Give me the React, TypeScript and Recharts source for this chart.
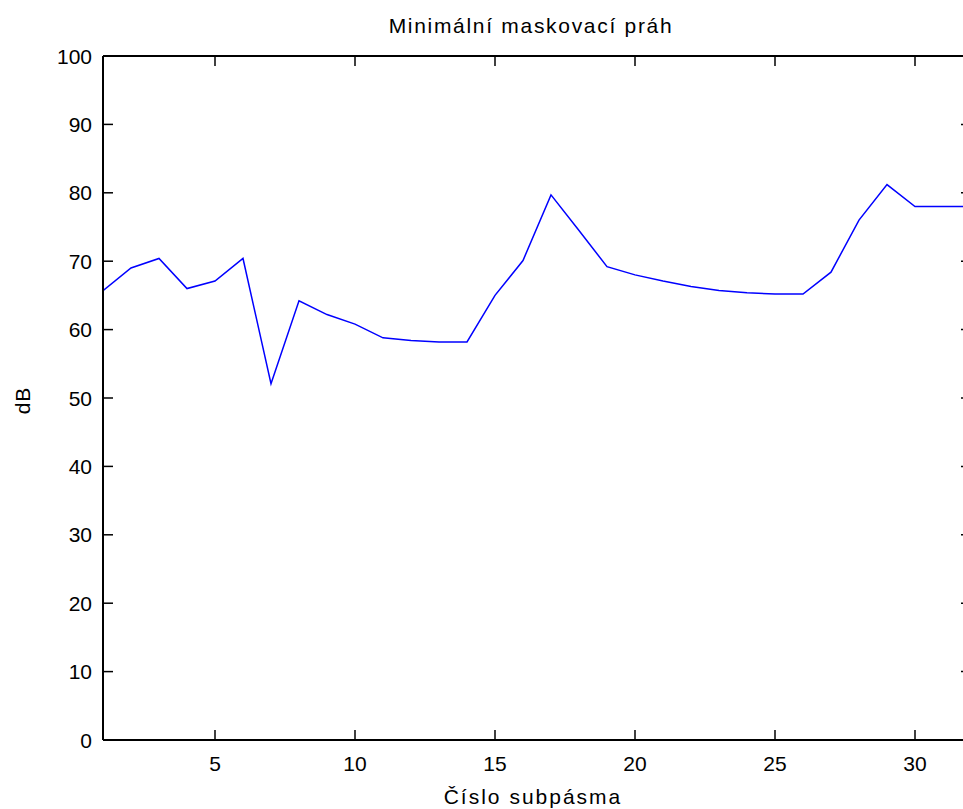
import React from "react";
import { LineChart, Line, XAxis, YAxis } from "recharts";

const subbands = [1, 2, 3, 4, 5, 6, 7, 8, 9, 10, 11, 12, 13, 14, 15, 16, 17, 18, 19, 20, 21, 22, 23, 24, 25, 26, 27, 28, 29, 30, 31, 32];
const thresholdDb = [65.7, 69.0, 70.4, 66.0, 67.1, 70.4, 52.1, 64.2, 62.2, 60.8, 58.8, 58.4, 58.2, 58.2, 65.0, 70.1, 79.7, 74.5, 69.2, 68.0, 67.1, 66.3, 65.7, 65.4, 65.2, 65.2, 68.4, 76.0, 81.2, 78.0, 78.0, 78.0];
const xTicks = [5, 10, 15, 20, 25, 30];
const yTicks = [0, 10, 20, 30, 40, 50, 60, 70, 80, 90, 100];

const title = "Minimální maskovací práh";
const xLabel = "Číslo subpásma";
const yLabel = "dB";

const data = subbands.map((s, i) => ({ x: s, y: thresholdDb[i] }));

const FONT = "'Liberation Sans', Arial, sans-serif";
const TICK_LEN = 10;

const BottomTick = (props: any) => {
  const { x, y, payload } = props;
  return (
    <g>
      <line x1={x} y1={y} x2={x} y2={y - TICK_LEN} stroke="#000" strokeWidth={1.5} />
      <text x={x} y={y + 31} textAnchor="middle" fontSize={21} fontFamily={FONT} fill="#000">
        {payload.value}
      </text>
    </g>
  );
};

const TopTick = (props: any) => {
  const { x, y } = props;
  return <line x1={x} y1={y} x2={x} y2={y + TICK_LEN} stroke="#000" strokeWidth={1.5} />;
};

const LeftTick = (props: any) => {
  const { x, y, payload } = props;
  return (
    <g>
      <line x1={x} y1={y} x2={x + TICK_LEN} y2={y} stroke="#000" strokeWidth={1.5} />
      <text x={x - 11} y={y} dy="0.36em" textAnchor="end" fontSize={21} fontFamily={FONT} fill="#000">
        {payload.value}
      </text>
    </g>
  );
};

const RightTick = (props: any) => {
  const { x, y } = props;
  return <line x1={x} y1={y} x2={x - TICK_LEN} y2={y} stroke="#000" strokeWidth={1.5} />;
};

export default function App() {
  return (
    <div
      style={{
        position: "fixed",
        left: 0,
        top: 0,
        width: 963,
        height: 809,
        overflow: "hidden",
        background: "#fff",
      }}
    >
      <LineChart
        width={1010}
        height={809}
        data={data}
        margin={{ top: 46, right: 29, bottom: 9, left: 43 }}
      >
        <XAxis
          dataKey="x"
          type="number"
          domain={[1, 32]}
          ticks={xTicks}
          interval={0}
          allowDataOverflow
          height={60}
          tickSize={0}
          tickMargin={0}
          tickLine={false}
          axisLine={{ stroke: "#000", strokeWidth: 2 }}
          tick={(p: any) => <BottomTick {...p} />}
        />
        <XAxis
          xAxisId="top"
          orientation="top"
          dataKey="x"
          type="number"
          domain={[1, 32]}
          ticks={xTicks}
          interval={0}
          allowDataOverflow
          height={10}
          tickSize={0}
          tickMargin={0}
          tickLine={false}
          axisLine={{ stroke: "#000", strokeWidth: 2 }}
          tick={(p: any) => <TopTick {...p} />}
        />
        <YAxis
          type="number"
          domain={[0, 100]}
          ticks={yTicks}
          interval={0}
          allowDataOverflow
          width={60}
          tickSize={0}
          tickMargin={0}
          tickLine={false}
          axisLine={{ stroke: "#000", strokeWidth: 2 }}
          tick={(p: any) => <LeftTick {...p} />}
        />
        <YAxis
          yAxisId="right"
          orientation="right"
          type="number"
          domain={[0, 100]}
          ticks={yTicks}
          interval={0}
          allowDataOverflow
          width={10}
          tickSize={0}
          tickMargin={0}
          tickLine={false}
          axisLine={{ stroke: "#000", strokeWidth: 2 }}
          tick={(p: any) => <RightTick {...p} />}
        />
        <Line
          type="linear"
          dataKey="y"
          stroke="#0000ff"
          strokeWidth={1.5}
          dot={false}
          activeDot={false}
          isAnimationActive={false}
        />
      </LineChart>
      <div
        style={{
          position: "absolute",
          left: 331,
          top: 15,
          width: 400,
          textAlign: "center",
          fontFamily: FONT,
          fontSize: 21,
          lineHeight: "21px",
          letterSpacing: 1.7,
          color: "#000",
          whiteSpace: "nowrap",
        }}
      >
        {title}
      </div>
      <div
        style={{
          position: "absolute",
          left: 333,
          top: 786,
          width: 400,
          textAlign: "center",
          fontFamily: FONT,
          fontSize: 21,
          lineHeight: "21px",
          letterSpacing: 2,
          color: "#000",
          whiteSpace: "nowrap",
        }}
      >
        {xLabel}
      </div>
      <div
        style={{
          position: "absolute",
          left: 22 - 30,
          top: 400 - 10.5,
          width: 60,
          height: 21,
          textAlign: "center",
          fontFamily: FONT,
          fontSize: 21,
          lineHeight: "21px",
          letterSpacing: 1,
          color: "#000",
          transform: "rotate(-90deg)",
          whiteSpace: "nowrap",
        }}
      >
        {yLabel}
      </div>
    </div>
  );
}
